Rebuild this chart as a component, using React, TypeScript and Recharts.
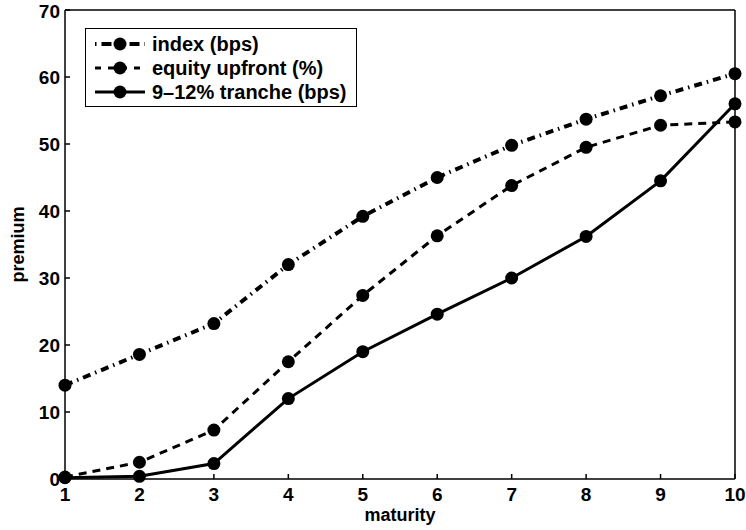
import { Legend, Line, LineChart, XAxis, YAxis } from "recharts";

const maturities = [1, 2, 3, 4, 5, 6, 7, 8, 9, 10];
const indexBps = [14, 18.6, 23.2, 32, 39.2, 45, 49.8, 53.7, 57.2, 60.5];
const equityUpfront = [0.3, 2.5, 7.3, 17.5, 27.4, 36.3, 43.8, 49.5, 52.8, 53.3];
const trancheBps = [0.2, 0.4, 2.3, 12, 19, 24.6, 30, 36.2, 44.5, 56];
const yTicks = [0, 10, 20, 30, 40, 50, 60, 70];

const data = maturities.map((m, i) => ({
  m,
  index: indexBps[i],
  equity: equityUpfront[i],
  tranche: trancheBps[i],
}));

const series = [
  { key: "index", name: "index (bps)", width: 4, dash: "8 5 1.5 5" },
  { key: "equity", name: "equity upfront (%)", width: 3, dash: "8 6" },
  { key: "tranche", name: "9–12% tranche (bps)", width: 3, dash: undefined },
];

const font = "'Liberation Sans', Arial, sans-serif";
const tickStyle = { fill: "#000", fontSize: 19, fontWeight: 700, fontFamily: font };

const renderLegend = () => (
  <div
    style={{
      width: 272,
      height: 79,
      border: "1.5px solid #000",
      background: "#fff",
      boxSizing: "border-box",
      paddingTop: 3,
    }}
  >
    {series.map((s) => (
      <div key={s.key} style={{ display: "flex", alignItems: "center", height: 24 }}>
        <svg width={64} height={20} style={{ marginLeft: 6 }}>
          <line
            x1={3}
            y1={10}
            x2={53}
            y2={10}
            stroke="#000"
            strokeWidth={s.width}
            strokeDasharray={s.key === "index" ? "1.5 5 10 18 10 5" : s.dash ? "6 7" : undefined}
          />
          <circle cx={28} cy={10} r={6.5} fill="#000" />
        </svg>
        <span style={{ fontSize: 20, fontWeight: 700, fontFamily: font, marginLeft: -4 }}>
          {s.name}
        </span>
      </div>
    ))}
  </div>
);

export default function App() {
  return (
    <div style={{ position: "absolute", left: 0, top: 0, background: "#fff" }}>
      <LineChart
        width={746}
        height={530}
        data={data}
        margin={{ top: 9, right: 10, bottom: 0, left: 0 }}
      >
        <XAxis
          dataKey="m"
          type="number"
          domain={[1, 10]}
          ticks={maturities}
          tickSize={-5}
          tickMargin={14}
          tick={tickStyle}
          height={51}
          stroke="#000"
          strokeWidth={1.5}
          label={{
            value: "maturity",
            position: "insideBottom",
            offset: 9,
            fill: "#000",
            fontSize: 18,
            fontWeight: 700,
            fontFamily: font,
          }}
        />
        <XAxis
          xAxisId="top"
          orientation="top"
          type="number"
          domain={[1, 10]}
          ticks={maturities}
          tickSize={-5}
          tick={false}
          height={1}
          stroke="#000"
          strokeWidth={1.5}
        />
        <YAxis
          type="number"
          domain={[0, 70]}
          ticks={yTicks}
          tickSize={-5}
          tickMargin={10}
          tick={tickStyle}
          width={65}
          stroke="#000"
          strokeWidth={1.5}
          label={({ viewBox }: any) => (
            <text
              x={0}
              y={0}
              transform={`translate(${viewBox.x + 24}, ${viewBox.y + viewBox.height / 2}) rotate(-90)`}
              textAnchor="middle"
              fill="#000"
              fontSize={18}
              fontWeight={700}
              fontFamily={font}
            >
              premium
            </text>
          )}
        />
        <YAxis
          yAxisId="right"
          orientation="right"
          type="number"
          domain={[0, 70]}
          ticks={yTicks}
          tickSize={-5}
          tick={false}
          width={1}
          stroke="#000"
          strokeWidth={1.5}
        />
        <Legend
          content={renderLegend}
          layout="vertical"
          align="center"
          verticalAlign="middle"
          wrapperStyle={{ left: 85, top: 28, width: "auto" }}
        />
        {series.map((s) => (
          <Line
            key={s.key}
            dataKey={s.key}
            name={s.name}
            stroke="#000"
            strokeWidth={s.width}
            strokeDasharray={s.dash}
            dot={{ r: 6.5, fill: "#000", stroke: "none", strokeWidth: 0 }}
            isAnimationActive={false}
          />
        ))}
      </LineChart>
    </div>
  );
}
